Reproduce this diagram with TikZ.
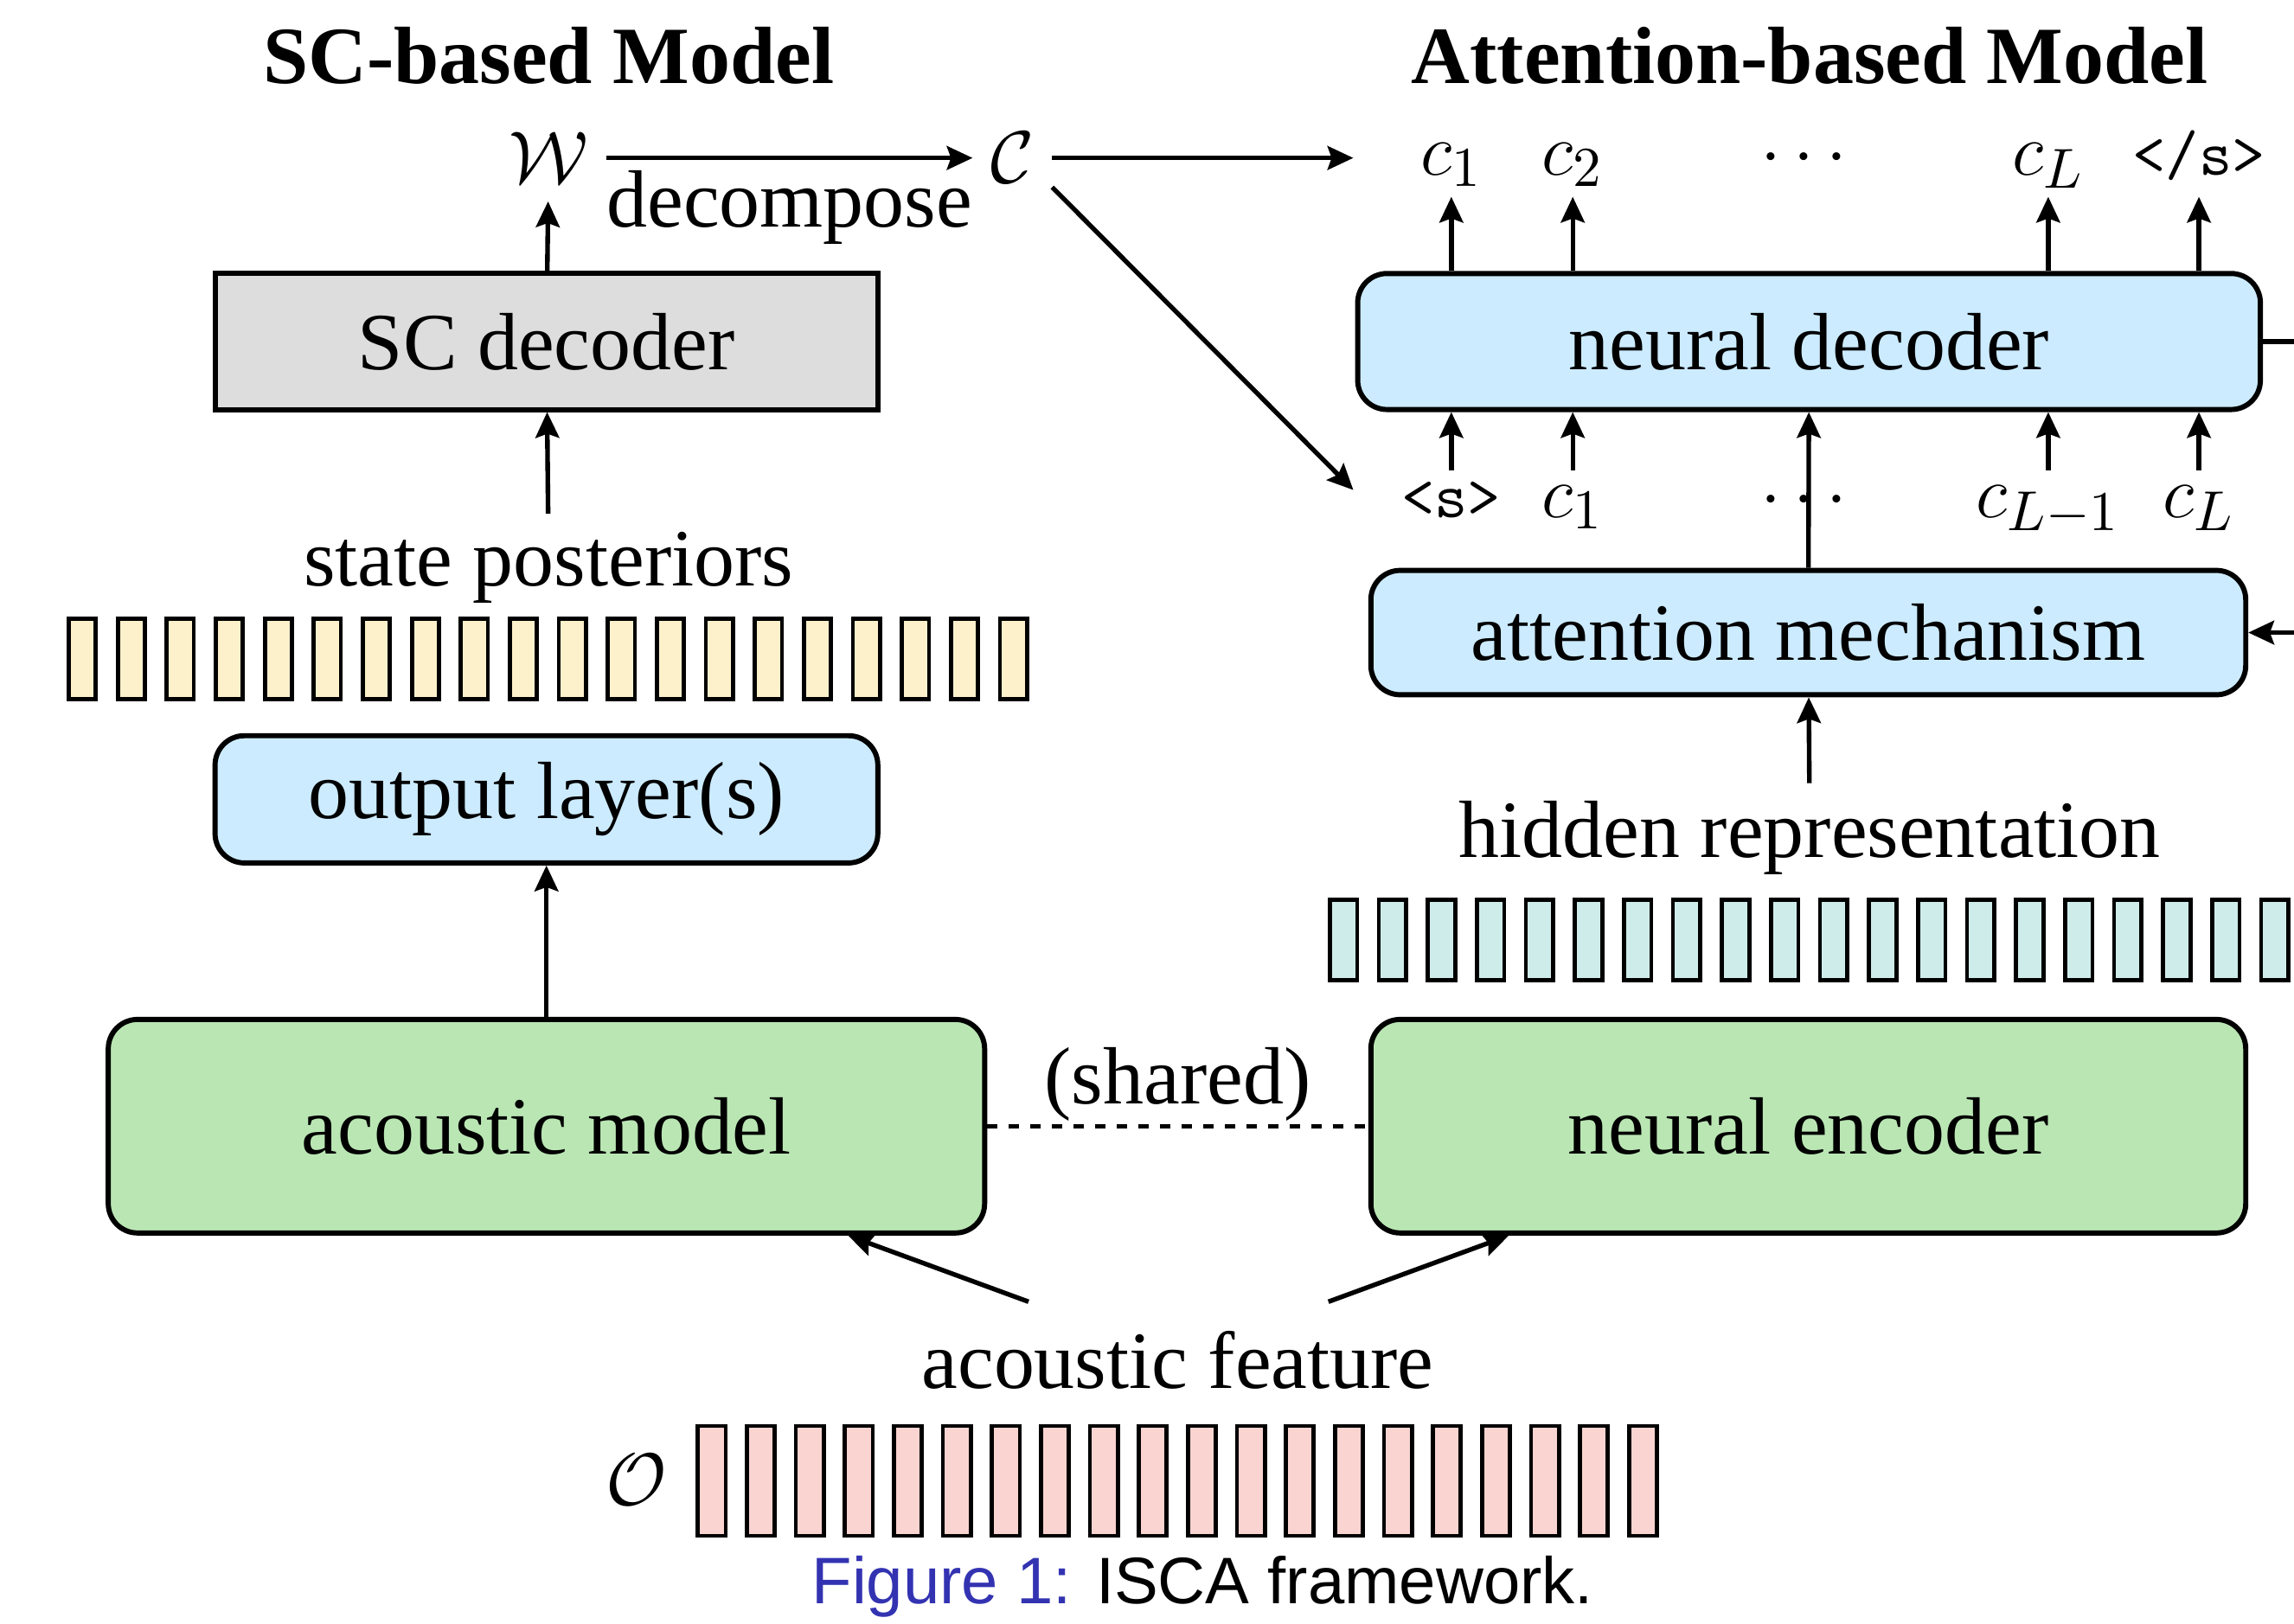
\documentclass[tikz,border=0pt]{standalone}
\usepackage{amsmath}
\usepackage{amssymb}
\usepackage{fontspec}
\setmainfont{Liberation Serif}
\newfontfamily\capfont{Liberation Sans}
\usetikzlibrary{arrows.meta,calc}

\definecolor{blkblue}{RGB}{204,235,255}
\definecolor{blkgreen}{RGB}{186,230,180}
\definecolor{blkgray}{RGB}{221,221,221}
\definecolor{postcol}{RGB}{253,241,204}
\definecolor{hidcol}{RGB}{206,236,234}
\definecolor{featcol}{RGB}{250,212,208}
\definecolor{figblue}{RGB}{51,51,178}

\newcommand{\tok}[1]{\fontsize{12.5}{14}\selectfont\texttt{#1}}

\tikzset{
  every node/.style={font=\fontsize{15.8}{19}\selectfont},
  arr/.style={-{Stealth[length=5pt,width=4.6pt,inset=0.8pt]}, line width=0.9pt},
  blk/.style={draw, line width=1pt, rounded corners=0.2cm, inner sep=0pt},
  lbl/.style={inner sep=1pt, text height=8pt, text depth=3pt},
  bar/.style={draw, line width=0.8pt, fill=#1},
}

\begin{document}
\begin{tikzpicture}
\useasboundingbox (0,0) rectangle (15.68,11.10);

% titles
\node[font=\fontsize{15.8}{19}\selectfont\bfseries] (sctitle) at (3.75,10.72) {SC-based Model};
\node[font=\fontsize{15.8}{19}\selectfont\bfseries] (atttitle) at (12.37,10.72) {Attention-based Model};

% SC-based model
\node[blk, fill=blkgreen, minimum width=5.99cm, minimum height=1.46cm] (am) at (3.735,3.40) {acoustic model};
\node[blk, fill=blkblue, minimum width=4.53cm, minimum height=0.87cm] (out) at (3.735,5.635) {output layer(s)};
\node (post) at (3.75,7.22) {state posteriors};
\node[blk, fill=blkgray, rounded corners=0pt, minimum width=4.53cm, minimum height=0.93cm] (scdec) at (3.735,8.765) {SC decoder};
\node (W) at (3.75,10.02) {$\mathcal{W}$};
\node (C) at (6.92,10.02) {$\mathcal{C}$};

\foreach \i in {0,...,19}
  \draw[bar=postcol] ({0.47+0.335*\i},6.32) rectangle ++(0.185,0.55);

\draw[arr] (am) -- (out);
\draw[arr] (post) -- (scdec);
\draw[arr] (scdec) -- (W);
\draw[arr] (W) -- node[below, inner sep=2pt] {decompose} (C);

% attention-based model
\node[blk, fill=blkgreen, minimum width=5.98cm, minimum height=1.46cm] (enc) at (12.36,3.40) {neural encoder};
\node (hid) at (12.37,5.37) {hidden representation};
\node[blk, fill=blkblue, minimum width=5.98cm, minimum height=0.85cm] (att) at (12.36,6.775) {attention mechanism};
\node[blk, fill=blkblue, minimum width=6.17cm, minimum height=0.93cm] (dec) at (12.365,8.765) {neural decoder};

\foreach \i in {0,...,19}
  \draw[bar=hidcol] ({9.09+0.335*\i},4.40) rectangle ++(0.187,0.55);

% decoder outputs
\node[lbl] (o1) at (9.92,9.99) {$c_1$};
\node[lbl] (o2) at (10.75,9.99) {$c_2$};
\node[lbl] (odots) at (12.37,9.99) {$\cdots$};
\node[lbl] (oL) at (14.00,9.99) {$c_L$};
\node[lbl] (oend) at (15.03,9.99) {\tok{</s>}};

% decoder inputs
\node[lbl] (i1) at (9.92,7.65) {\tok{<s>}};
\node[lbl] (i2) at (10.75,7.65) {$c_1$};
\node[lbl] (idots) at (12.37,7.65) {$\cdots$};
\node[lbl] (iL) at (14.00,7.65) {$c_{L-1}$};
\node[lbl] (iend) at (15.03,7.65) {$c_L$};

\foreach \n in {o1,o2,oL,oend}
  \draw[arr] (dec.north -| \n) -- (\n);
\foreach \n in {i1,i2,iL,iend}
  \draw[arr] (\n) -- (dec.south -| \n);

\draw[arr] (att) -- (dec);
\draw[arr] (hid) -- (att);

% C feeds the decoder
\coordinate (topin) at (9.25,10.02);
\coordinate (botin) at (9.25,7.75);
\draw[arr] (C) -- (topin);
\draw[arr] ($(C.east)+(0,-0.2)$) -- (botin);

% loop on the right edge
\coordinate (rim) at (15.68,0);
\draw[line width=0.9pt] (dec.east) -- (dec.east -| rim);
\draw[arr] (att.east -| rim) -- (att.east);

% shared
\draw[line width=0.8pt, dash pattern=on 2pt off 2.2pt] (am) -- node[above, inner sep=0.6pt] {(shared)} (enc);

% acoustic feature
\node (feat) at (8.05,1.80) {acoustic feature};
\coordinate (featL) at (7.03,2.20);
\coordinate (featR) at (9.08,2.20);
\draw[arr] (featL) -- ($(am.south east)+(-0.95,0)$);
\draw[arr] (featR) -- ($(enc.south west)+(0.96,0)$);

\node (O) at (4.35,0.98) {$\mathcal{O}$};
\foreach \i in {0,...,19}
  \draw[bar=featcol] ({4.77+0.335*\i},0.60) rectangle ++(0.19,0.75);

% caption
\node[font=\capfont\fontsize{12.8}{15}\selectfont] (cap) at (8.22,0.25) {\textcolor{figblue}{Figure 1:} ISCA framework.};
\end{tikzpicture}
\end{document}
